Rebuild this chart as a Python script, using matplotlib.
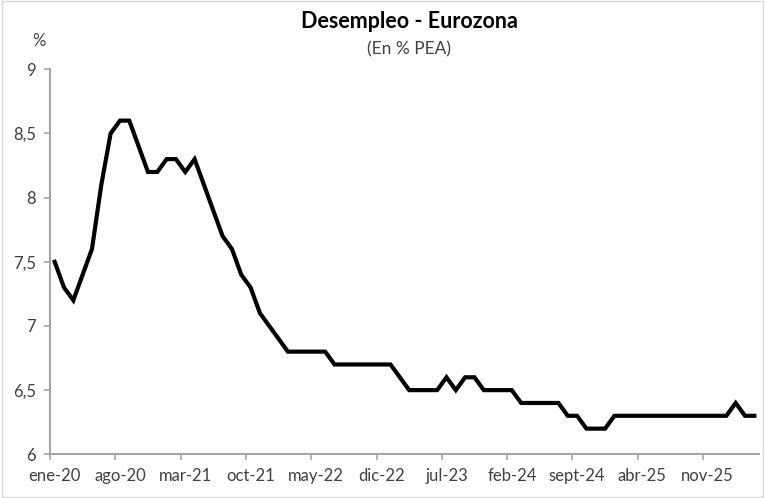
import numpy as np
import matplotlib.pyplot as plt
from matplotlib.patches import Rectangle

plt.rcParams['font.family'] = ['Lato', 'DejaVu Sans']

# Desempleo Eurozona, mensual desde ene-20 (en % de la PEA)
desempleo = [7.5, 7.3, 7.2, 7.4, 7.6, 8.1, 8.5, 8.6, 8.6, 8.4,
             8.2, 8.2, 8.3, 8.3, 8.2, 8.3, 8.1, 7.9, 7.7, 7.6,
             7.4, 7.3, 7.1, 7.0, 6.9, 6.8, 6.8, 6.8, 6.8, 6.8,
             6.7, 6.7, 6.7, 6.7, 6.7, 6.7, 6.7, 6.6, 6.5, 6.5,
             6.5, 6.5, 6.6, 6.5, 6.6, 6.6, 6.5, 6.5, 6.5, 6.5,
             6.4, 6.4, 6.4, 6.4, 6.4, 6.3, 6.3, 6.2, 6.2, 6.2,
             6.3, 6.3, 6.3, 6.3, 6.3, 6.3, 6.3, 6.3, 6.3, 6.3,
             6.3, 6.3, 6.3, 6.4, 6.3, 6.3]
x_labels = ["ene-20", "ago-20", "mar-21", "oct-21", "may-22", "dic-22",
            "jul-23", "feb-24", "sept-24", "abr-25", "nov-25"]
label_step = 7
y_ticks = [6, 6.5, 7, 7.5, 8, 8.5, 9]
y_labels = ["6", "6,5", "7", "7,5", "8", "8,5", "9"]

fig = plt.figure(figsize=(7.65, 4.98), dpi=100)
ax = fig.add_axes([50 / 765, 1 - 454.3 / 498, 709 / 765, 385 / 498])

x = np.arange(len(desempleo))
ax.plot(x, desempleo, color='black', lw=3, solid_joinstyle='miter')

gray = '#a6a6a6'
ax.set_xlim(-0.5, len(desempleo) - 0.5)
ax.set_ylim(6, 9)
ax.set_yticks(y_ticks)
ax.set_yticklabels(y_labels)

pos = np.arange(len(x_labels)) * label_step
ax.set_xticks(pos - 0.5)
ax.set_xticklabels([])
ax.set_xticks(pos, minor=True)
ax.set_xticklabels(x_labels, minor=True)
ax.tick_params(axis='x', which='minor', length=0, pad=10)
ax.tick_params(axis='x', which='major', length=4, color=gray, width=1.2)
ax.tick_params(axis='y', length=4, color=gray, width=1.2, pad=6)
ax.tick_params(which='both', labelsize=12, labelcolor='#404040')

for s in ['top', 'right']:
    ax.spines[s].set_visible(False)
for s in ['left', 'bottom']:
    ax.spines[s].set_color(gray)
    ax.spines[s].set_linewidth(1.5)

fig.text(39 / 765, 1 - 41 / 498, "%", ha='center', va='center',
         fontsize=12, color='#404040')
fig.text(409 / 765, 1 - 22 / 498, "Desempleo - Eurozona", ha='center',
         va='center', fontsize=15.5, fontweight='bold', color='black')
fig.text(409 / 765, 1 - 49 / 498, "(En % PEA)", ha='center', va='center',
         fontsize=12.5, color='#404040')

fig.patches.append(Rectangle((0.002, 0.002), 0.996, 0.996, transform=fig.transFigure,
                             fill=False, edgecolor='#d9d9d9', lw=1))

fig.savefig("out.png", dpi=100)
